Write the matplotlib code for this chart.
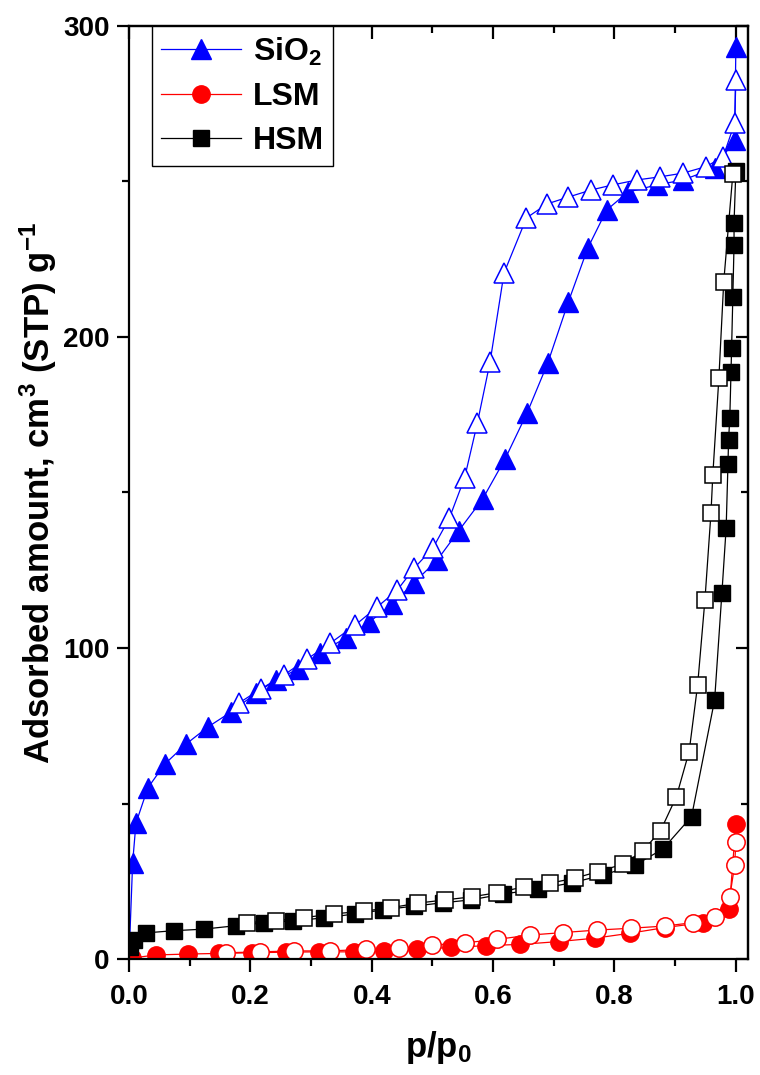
import matplotlib
matplotlib.use("Agg")
import matplotlib.pyplot as plt
from matplotlib.ticker import MultipleLocator, FormatStrFormatter

plt.rcParams['font.family'] = ['Liberation Sans', 'DejaVu Sans']
plt.rcParams['font.weight'] = 'bold'
plt.rcParams['mathtext.fontset'] = 'custom'
plt.rcParams['mathtext.rm'] = 'Liberation Sans:bold'
plt.rcParams['mathtext.it'] = 'Liberation Sans:bold'
plt.rcParams['mathtext.bf'] = 'Liberation Sans:bold'
plt.rcParams['mathtext.sf'] = 'Liberation Sans:bold'
plt.rcParams['mathtext.default'] = 'rm'

# ---------------- data ----------------
sio2_ads_x = [0.0, 0.006, 0.0115, 0.031, 0.059, 0.094, 0.130, 0.168, 0.209, 0.242, 0.278,
              0.314, 0.357, 0.395, 0.434, 0.469, 0.508, 0.543, 0.583, 0.620, 0.656, 0.690,
              0.724, 0.756, 0.787, 0.822, 0.870, 0.913, 0.965, 0.998, 1.0]
sio2_ads_y = [0.0, 31.0, 43.7, 55.0, 62.7, 69.1, 74.6, 79.4, 85.4, 89.7, 93.2,
              98.4, 103.2, 108.2, 114.1, 120.9, 128.3, 137.6, 148.0, 160.9, 175.6, 191.6,
              211.3, 228.6, 240.8, 246.6, 248.9, 250.5, 254.3, 263.3, 293.2]
sio2_des_x = [1.0, 0.998, 0.979, 0.951, 0.913, 0.875, 0.837, 0.797, 0.762, 0.724, 0.689,
              0.655, 0.618, 0.595, 0.574, 0.553, 0.528, 0.501, 0.470, 0.442, 0.409, 0.373,
              0.332, 0.294, 0.255, 0.217, 0.181]
sio2_des_y = [282.6, 268.8, 257.9, 254.8, 252.7, 251.5, 250.5, 248.9, 247.3, 245.0, 242.8,
              238.3, 220.6, 192.0, 172.3, 154.7, 141.8, 132.2, 125.7, 118.6, 113.2, 107.4,
              101.6, 96.5, 91.3, 86.8, 82.3]

lsm_ads_x = [0.005, 0.044, 0.098, 0.149, 0.203, 0.258, 0.313, 0.371, 0.420, 0.475, 0.530,
             0.589, 0.645, 0.708, 0.768, 0.826, 0.883, 0.946, 0.989, 1.0]
lsm_ads_y = [0.3, 1.3, 1.6, 1.8, 2.0, 2.2, 2.3, 2.3, 2.6, 3.1, 3.7,
             4.3, 4.7, 5.6, 6.7, 8.3, 10.1, 11.7, 16.0, 43.4]
lsm_des_x = [1.0, 0.998, 0.990, 0.965, 0.930, 0.883, 0.828, 0.771, 0.715, 0.661, 0.606,
             0.554, 0.500, 0.445, 0.390, 0.332, 0.272, 0.216, 0.160]
lsm_des_y = [37.7, 30.2, 20.0, 13.4, 11.7, 10.6, 9.9, 9.3, 8.5, 7.7, 6.3,
             5.2, 4.5, 3.4, 3.1, 2.6, 2.6, 2.3, 2.0]

hsm_ads_x = [0.002, 0.008, 0.028, 0.074, 0.123, 0.176, 0.222, 0.271, 0.321, 0.373, 0.419,
             0.469, 0.518, 0.563, 0.617, 0.674, 0.730, 0.781, 0.834, 0.880, 0.927, 0.965,
             0.977, 0.984, 0.987, 0.988, 0.990, 0.992, 0.993, 0.995, 0.997, 0.997, 1.0]
hsm_ads_y = [4.0, 6.1, 8.4, 9.1, 9.6, 10.7, 11.6, 12.3, 13.2, 14.5, 15.8,
             17.0, 18.1, 19.0, 20.9, 22.5, 24.5, 27.0, 30.2, 35.4, 45.8, 83.3,
             117.7, 138.6, 159.2, 166.9, 174.0, 188.8, 196.5, 213.0, 229.6, 236.8, 253.5]
hsm_des_x = [0.995, 0.980, 0.972, 0.962, 0.959, 0.949, 0.937, 0.923, 0.902, 0.876, 0.847,
             0.814, 0.773, 0.735, 0.694, 0.651, 0.606, 0.565, 0.521, 0.477, 0.432, 0.387,
             0.337, 0.288, 0.242, 0.195]
hsm_des_y = [252.4, 217.7, 186.8, 155.6, 143.4, 115.4, 88.1, 66.7, 52.2, 41.3, 34.8,
             30.5, 28.1, 26.0, 24.4, 23.2, 21.3, 20.0, 19.0, 18.0, 16.5, 15.4,
             14.5, 13.3, 12.3, 11.7]

labels = [r'SiO$_{2}$', 'LSM', 'HSM']
colors = ['#0000ff', '#ff0000', '#000000']

# ---------------- figure ----------------
fig = plt.figure(figsize=(7.6, 10.75), dpi=100)
ax = fig.add_axes([129/760, 116/1075, (748-129)/760, (1049-116)/1075])

lw = 0.9
ax.plot(sio2_ads_x, sio2_ads_y, '-^', color=colors[0], lw=lw, ms=14,
        mfc=colors[0], mec=colors[0], label=labels[0])
ax.plot(sio2_des_x, sio2_des_y, '-^', color=colors[0], lw=lw, ms=14,
        mfc='white', mec=colors[0], mew=1.1)
ax.plot(lsm_ads_x, lsm_ads_y, '-o', color=colors[1], lw=lw, ms=12.5,
        mfc=colors[1], mec=colors[1], label=labels[1])
ax.plot(lsm_des_x, lsm_des_y, '-o', color=colors[1], lw=lw, ms=12.5,
        mfc='white', mec=colors[1], mew=1.1)
ax.plot(hsm_ads_x, hsm_ads_y, '-s', color=colors[2], lw=lw, ms=11,
        mfc=colors[2], mec=colors[2], label=labels[2])
ax.plot(hsm_des_x, hsm_des_y, '-s', color=colors[2], lw=lw, ms=11,
        mfc='white', mec=colors[2], mew=1.1)

ax.set_xlim(0, 1.02)
ax.set_ylim(0, 300)

ax.xaxis.set_major_locator(MultipleLocator(0.2))
ax.xaxis.set_minor_locator(MultipleLocator(0.1))
ax.xaxis.set_major_formatter(FormatStrFormatter('%.1f'))
ax.yaxis.set_major_locator(MultipleLocator(100))
ax.yaxis.set_minor_locator(MultipleLocator(50))

for sp in ax.spines.values():
    sp.set_linewidth(1.6)

ax.tick_params(axis='x', which='major', direction='out', length=9, width=1.6,
               labelsize=20, pad=9)
ax.tick_params(axis='y', which='major', direction='out', length=9, width=1.6,
               labelsize=20, pad=5)
ax.tick_params(which='minor', direction='out', length=5, width=1.6)

top = ax.secondary_xaxis('top')
top.xaxis.set_major_locator(MultipleLocator(0.2))
top.xaxis.set_minor_locator(MultipleLocator(0.1))
top.tick_params(which='major', direction='in', length=9, width=1.6, labeltop=False)
top.tick_params(which='minor', direction='in', length=5, width=1.6)
top.spines['top'].set_linewidth(1.6)

right = ax.secondary_yaxis('right')
right.yaxis.set_major_locator(MultipleLocator(100))
right.yaxis.set_minor_locator(MultipleLocator(50))
right.tick_params(which='major', direction='in', length=9, width=1.6, labelright=False)
right.tick_params(which='minor', direction='in', length=5, width=1.6)
right.spines['right'].set_linewidth(1.6)

for t in ax.get_xticklabels() + ax.get_yticklabels():
    t.set_fontweight('bold')

ax.set_xlabel(r'p/p$_{0}$', fontsize=25, fontweight='bold', labelpad=14)
ax.set_ylabel(r'Adsorbed amount, cm$^{3}$ (STP) g$^{-1}$', fontsize=25,
              fontweight='bold', labelpad=3)

leg = ax.legend(loc='upper left', bbox_to_anchor=(0.037, 1.0),
                frameon=True, fancybox=False, numpoints=1, handlelength=2.5,
                handletextpad=0.35, borderpad=0.3, labelspacing=0.45,
                borderaxespad=0.0, prop={'weight': 'bold', 'size': 23})
leg.get_frame().set_edgecolor('black')
leg.get_frame().set_linewidth(1.0)
leg.get_frame().set_alpha(1)

fig.savefig('out.png', dpi=100)
